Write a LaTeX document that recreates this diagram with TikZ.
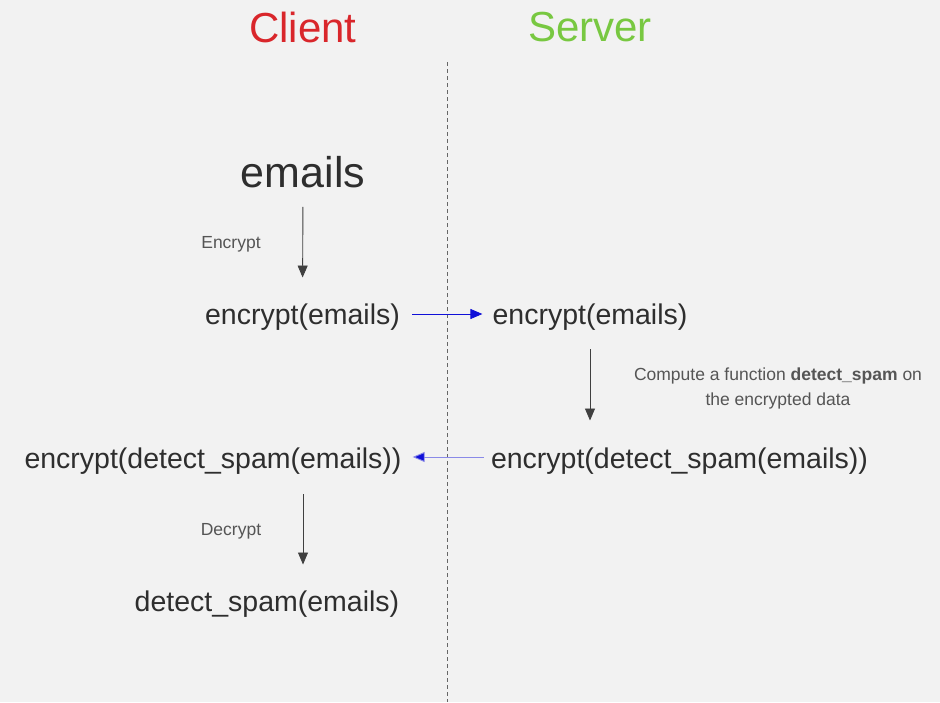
\documentclass[tikz,border=0pt]{standalone}
\usepackage{fontspec}
\setmainfont{Liberation Sans}
\usetikzlibrary{arrows.meta}
\definecolor{bgc}{HTML}{F2F2F2}
\definecolor{clientc}{HTML}{D9262B}
\definecolor{serverc}{HTML}{78C841}
\definecolor{txt}{HTML}{2E2E2E}
\definecolor{lbl}{HTML}{555555}
\definecolor{arrblue}{HTML}{1010D8}
\definecolor{arrlblue}{HTML}{8A8AE8}
\tikzset{
  head/.style={font=\fontsize{42}{50}\selectfont, inner sep=0pt},
  big/.style={font=\fontsize{43}{50}\selectfont, text=txt, inner sep=0pt},
  term/.style={font=\fontsize{28.5}{34}\selectfont, text=txt, inner sep=0pt},
  small/.style={font=\fontsize{17.5}{25}\selectfont, text=lbl, inner sep=0pt},
  varr/.style={draw=black!75, line width=0.9pt, -{Triangle[length=12pt,width=10pt]}},
  barr/.style={draw=arrblue, line width=0.9pt, -{Triangle[length=12pt,width=10pt,fill=arrblue]}},
  rarr/.style={draw=arrlblue, line width=0.9pt, -{Triangle[length=12pt,width=10pt,fill=arrblue]}},
  divider/.style={draw=black!60, line width=0.7pt, dash pattern=on 4pt off 3pt}
}
\begin{document}
\begin{tikzpicture}[x=1pt,y=-1pt]
\fill[bgc] (0,0) rectangle (940,702);
\useasboundingbox (0,0) rectangle (940,702);

\coordinate (divtop) at (447,62);
\coordinate (divbot) at (447,702);
\draw[divider] (divtop) -- (divbot);

\node[head, text=clientc] (client) at (303,27) {Client};
\node[head, text=serverc] (server) at (590,27) {Server};

\node[big] (emails) at (303,172) {emails};
\node[term] (encL) at (302.5,317) {encrypt(emails)};
\node[term] (encR) at (590,317) {encrypt(emails)};
\node[term] (detL) at (213,461) {encrypt(detect\_spam(emails))};
\node[term] (detR) at (679.5,461) {encrypt(detect\_spam(emails))};
\node[term] (final) at (267,604) {detect\_spam(emails)};

\node[small] (lenc) at (231,244) {Encrypt};
\node[small] (ldec) at (231,531) {Decrypt};
\node[small, align=center] (lcomp) at (778,388) {Compute a function \textbf{detect\_spam} on\\the encrypted data};

\draw[varr, shorten <=19pt, shorten >=26pt] (emails.south) -- (encL.north);
\draw[barr, shorten <=12pt, shorten >=10pt] ([yshift=3pt]encL.east) -- ([yshift=3pt]encR.west);
\draw[varr, shorten <=19pt, shorten >=27pt] (encR.south) -- (encR.south |- detR.north);
\draw[rarr, shorten <=7pt, shorten >=11pt] ([yshift=4pt]detR.west) -- ([yshift=4pt]detL.east);
\draw[varr, shorten <=20pt, shorten >=26pt] (detL.south -| emails) -- (final.north -| emails);
\end{tikzpicture}
\end{document}
